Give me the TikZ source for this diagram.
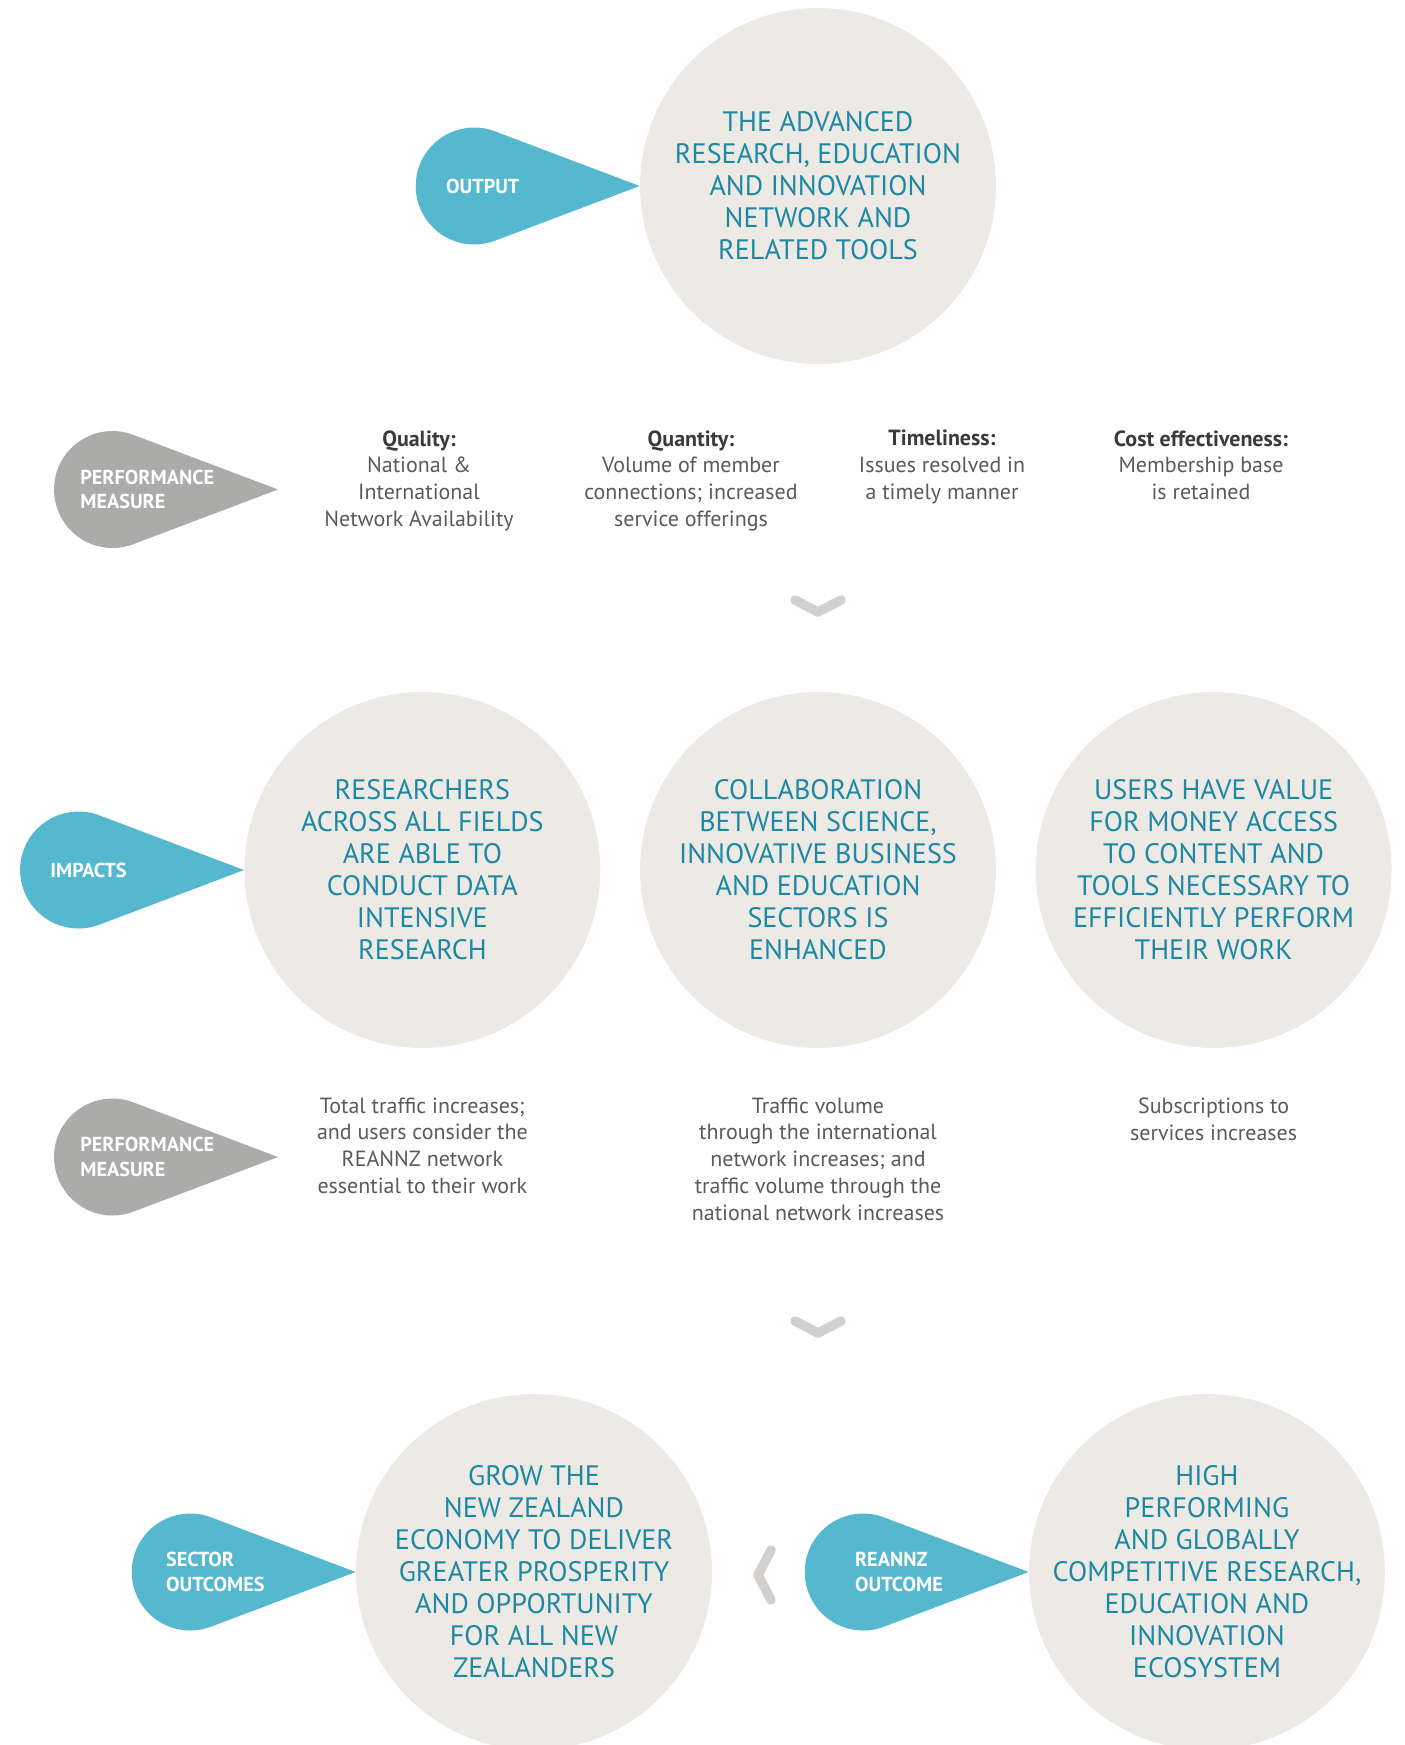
\documentclass[tikz,border=0pt]{standalone}
\usepackage{fontspec}
\setmainfont{PT Sans}
\usetikzlibrary{positioning}
\definecolor{tealfill}{HTML}{56B8CE}
\definecolor{tealtext}{HTML}{1E88A2}
\definecolor{bubblefill}{HTML}{EDEAE6}
\definecolor{tagfill}{HTML}{ABABAA}
\definecolor{bodytext}{HTML}{5A5A5A}
\definecolor{headtext}{HTML}{3A3A3A}
\definecolor{chevgray}{HTML}{D2CFCC}
\tikzstyle{bubble} = [circle, fill=bubblefill, minimum size=7.12cm, inner sep=-1cm, align=center, text=tealtext, font=\fontsize{16}{18.2}\selectfont]
\tikzstyle{tagtext} = [anchor=west, inner sep=0pt, align=left, text=white, font=\fontsize{11.5}{13.9}\selectfont\bfseries]
\tikzstyle{measure} = [anchor=north, inner sep=0pt, align=center, text=bodytext, font=\fontsize{12.5}{15.2}\selectfont]
\tikzstyle{chevron} = [draw=chevgray, line width=0.19cm, line cap=round, line join=round]

% teardrop label, tip at #3
\newcommand{\droptag}[5][0cm]{%
	\fill[#4] (#3) -- ++(159.3:154.8) arc[start angle=69.3, end angle=290.7, radius=58.5] -- cycle;
	\node[tagtext] (#2) at ([xshift=-3.88cm+#1]#3) {#5};
}

\begin{document}
\begin{tikzpicture}[x=0.02cm, y=0.02cm]
	\useasboundingbox (0,0) rectangle (1404,-1745);
	\clip (0,0) rectangle (1404,-1745);

	% output
	\node[bubble] (out) at (818,-186) {THE ADVANCED\\RESEARCH, EDUCATION\\AND INNOVATION\\NETWORK AND\\RELATED TOOLS};
	\droptag{outtag}{out.west}{tealfill}{OUTPUT}

	% performance measures
	\coordinate (pm1) at (278,-489.5);
	\droptag[-0.08cm]{pm1tag}{pm1}{tagfill}{PERFORMANCE\\MEASURE}
	\node[measure] (quality) at (419,-430) {{\color{headtext}\bfseries Quality:}\\National \&\\International\\Network Availability};
	\node[measure] (quantity) at (691,-430) {{\color{headtext}\bfseries Quantity:}\\Volume of member\\connections; increased\\service offerings};
	\node[measure] (timely) at (942,-430) {{\color{headtext}\bfseries Timeliness:}\\Issues resolved in\\a timely manner};
	\node[measure] (cost) at (1201,-430) {{\color{headtext}\bfseries Cost effectiveness:}\\Membership base\\is retained};

	\draw[chevron] (795,-600) -- (818,-612) -- (841,-600);

	% impacts
	\node[bubble] (collab) at (818,-870) {COLLABORATION\\BETWEEN SCIENCE,\\INNOVATIVE BUSINESS\\AND EDUCATION\\SECTORS IS\\ENHANCED};
	\node[bubble, left=0.78cm of collab] (res) {RESEARCHERS\\ACROSS ALL FIELDS\\ARE ABLE TO\\CONDUCT DATA\\INTENSIVE\\RESEARCH};
	\node[bubble, right=0.78cm of collab] (users) {USERS HAVE VALUE\\FOR MONEY ACCESS\\TO CONTENT AND\\TOOLS NECESSARY TO\\EFFICIENTLY PERFORM\\THEIR WORK};
	\droptag{imptag}{res.west}{tealfill}{IMPACTS}

	\coordinate (pm2) at (278,-1157);
	\droptag[-0.08cm]{pm2tag}{pm2}{tagfill}{PERFORMANCE\\MEASURE}
	\node[measure, below=0.98cm of res] (traffic) {Total traffic increases;\\and users consider the\\REANNZ network\\essential to their work};
	\node[measure, below=0.98cm of collab] (volume) {Traffic volume\\through the international\\network increases; and\\traffic volume through the\\national network increases};
	\node[measure, below=0.98cm of users] (subs) {Subscriptions to\\services increases};

	\draw[chevron] (795,-1321) -- (818,-1333) -- (841,-1321);

	% outcomes
	\node[bubble] (grow) at (534,-1572) {GROW THE\\NEW ZEALAND\\ECONOMY TO DELIVER\\GREATER PROSPERITY\\AND OPPORTUNITY\\FOR ALL NEW\\ZEALANDERS};
	\node[bubble] (eco) at (1207,-1572) {HIGH\\PERFORMING\\AND GLOBALLY\\COMPETITIVE RESEARCH,\\EDUCATION AND\\INNOVATION\\ECOSYSTEM};
	\droptag[0.08cm]{sectag}{grow.west}{tealfill}{SECTOR\\OUTCOMES}
	\droptag[0.4cm]{reatag}{eco.west}{tealfill}{REANNZ\\OUTCOME}

	\draw[chevron] (771,-1550) -- (758,-1575) -- (771,-1600);
\end{tikzpicture}
\end{document}
